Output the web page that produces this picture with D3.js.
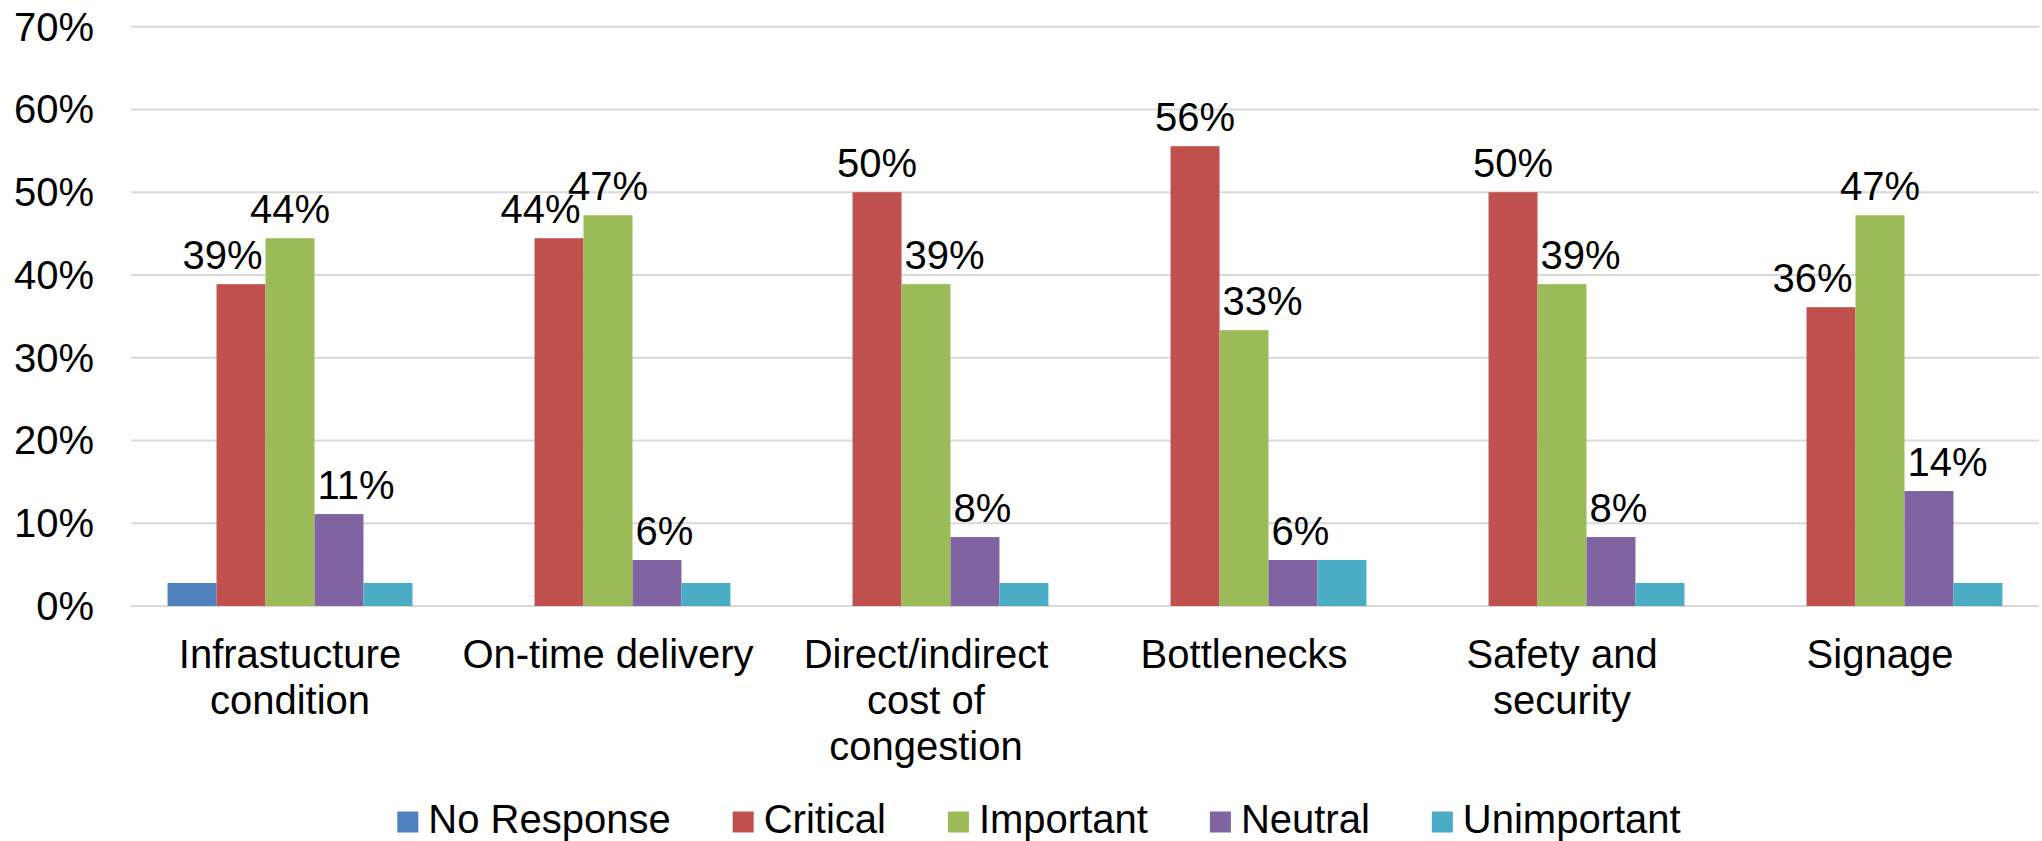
<!DOCTYPE html>
<html>
<head>
<meta charset="utf-8">
<script src="https://cdn.jsdelivr.net/npm/d3@7"></script>
<style>
  html, body { margin: 0; padding: 0; background: #ffffff; }
  svg { display: block; }
  text { font-family: "Liberation Sans", Arial, Helvetica, sans-serif; fill: #000000; }
</style>
</head>
<body>
<svg id="chart" width="2042" height="841"></svg>
<script>
// Survey categories along the x axis
const categories = [
  "Infrastucture condition",
  "On-time delivery",
  "Direct/indirect cost of congestion",
  "Bottlenecks",
  "Safety and security",
  "Signage"
];

// Response shares per category (fraction of respondents)
const seriesNames = ["No Response", "Critical", "Important", "Neutral", "Unimportant"];
const noResponse  = [0.0278, 0,      0,      0,      0,      0];
const critical    = [0.3889, 0.4444, 0.5000, 0.5556, 0.5000, 0.3611];
const important   = [0.4444, 0.4722, 0.3889, 0.3333, 0.3889, 0.4722];
const neutral     = [0.1111, 0.0556, 0.0833, 0.0556, 0.0833, 0.1389];
const unimportant = [0.0278, 0.0278, 0.0278, 0.0556, 0.0278, 0.0278];

// Series that carry value labels
const labelledSeries = ["Critical", "Important", "Neutral"];

// Y axis tick values
const yTicks = [0, 0.1, 0.2, 0.3, 0.4, 0.5, 0.6, 0.7];

const seriesValues = [noResponse, critical, important, neutral, unimportant];
const colors = ["#4F81BD", "#C0504D", "#9BBB59", "#8064A2", "#4BACC6"];

const svg = d3.select("#chart");
const FONT = 40;

const x = d3.scaleBand()
  .domain(categories)
  .range([131, 2039])
  .paddingInner(0.23)
  .paddingOuter(0.115);

const xs = d3.scaleBand()
  .domain(seriesNames)
  .range([0, x.bandwidth()]);

const y = d3.scaleLinear()
  .domain([0, 0.7])
  .range([606, 26.7]);

const color = d3.scaleOrdinal().domain(seriesNames).range(colors);

// Horizontal gridlines
svg.append("g")
  .selectAll("line")
  .data(yTicks)
  .join("line")
  .attr("x1", 131)
  .attr("x2", 2039)
  .attr("y1", d => y(d))
  .attr("y2", d => y(d))
  .attr("stroke", "#d9d9d9")
  .attr("stroke-width", 2);

// Y tick labels
const fmt = d3.format(".0%");
svg.append("g")
  .selectAll("text")
  .data(yTicks)
  .join("text")
  .attr("x", 94)
  .attr("y", d => y(d))
  .attr("dy", "0.35em")
  .attr("text-anchor", "end")
  .attr("font-size", FONT)
  .text(d => fmt(d));

// Flatten into bar records
const bars = [];
categories.forEach((c, ci) => {
  seriesNames.forEach((s, si) => {
    bars.push({ cat: c, ci, series: s, si, value: seriesValues[si][ci] });
  });
});

const barX = d => x(d.cat) + xs(d.series);

svg.append("g")
  .selectAll("rect")
  .data(bars.filter(d => d.value > 0))
  .join("rect")
  .attr("x", d => barX(d))
  .attr("y", d => y(d.value))
  .attr("width", xs.bandwidth())
  .attr("height", d => y(0) - y(d.value))
  .attr("fill", d => color(d.series));

// Value labels: centred above the bar, nudged sideways when a taller neighbour bar would overlap
const labelG = svg.append("g");
const pad = 3;
bars.filter(d => labelledSeries.includes(d.series)).forEach(d => {
  const t = labelG.append("text")
    .attr("font-size", FONT)
    .attr("text-anchor", "start")
    .text(fmt(d.value));
  const w = t.node().getComputedTextLength();
  const x0 = barX(d);
  const bw = xs.bandwidth();
  const baseline = y(d.value) - 15;
  let left = x0 + bw / 2 - w / 2;
  const leftN = d.si > 0 ? seriesValues[d.si - 1][d.ci] : 0;
  const rightN = d.si < seriesNames.length - 1 ? seriesValues[d.si + 1][d.ci] : 0;
  const leftBlocks = leftN > 0 && y(leftN) < baseline && left < x0 + pad;
  const rightBlocks = rightN > 0 && y(rightN) < baseline && left + w > x0 + bw - pad;
  if (leftBlocks && !rightBlocks) left = x0 + pad;
  else if (rightBlocks && !leftBlocks) left = x0 + bw - pad - w;
  t.attr("x", left).attr("y", baseline);
});

// Category labels, wrapped to the band step
const step = x.step();
const catG = svg.append("g");
categories.forEach(c => {
  const cx = x(c) + x.bandwidth() / 2;
  const words = c.split(" ");
  const lines = [];
  let cur = "";
  const probe = catG.append("text").attr("font-size", FONT);
  words.forEach(wd => {
    const trial = cur ? cur + " " + wd : wd;
    probe.text(trial);
    if (cur && probe.node().getComputedTextLength() > step) {
      lines.push(cur);
      cur = wd;
    } else {
      cur = trial;
    }
  });
  if (cur) lines.push(cur);
  probe.remove();
  lines.forEach((ln, i) => {
    catG.append("text")
      .attr("x", cx)
      .attr("y", 668 + i * 46)
      .attr("text-anchor", "middle")
      .attr("font-size", FONT)
      .text(ln);
  });
});

// Legend, centred below the categories
const legend = svg.append("g");
const sq = 21, sqGap = 10, itemGap = 62;
const items = seriesNames.map(s => {
  const g = legend.append("g");
  g.append("rect").attr("width", sq).attr("height", sq).attr("y", 811.5).attr("fill", color(s));
  const t = g.append("text")
    .attr("x", sq + sqGap)
    .attr("y", 833)
    .attr("font-size", FONT)
    .text(s);
  return { g, w: sq + sqGap + t.node().getComputedTextLength() };
});
const total = d3.sum(items, d => d.w) + itemGap * (items.length - 1);
let lx = 1039 - total / 2;
items.forEach(it => {
  it.g.attr("transform", `translate(${lx},0)`);
  lx += it.w + itemGap;
});
</script>
</body>
</html>
